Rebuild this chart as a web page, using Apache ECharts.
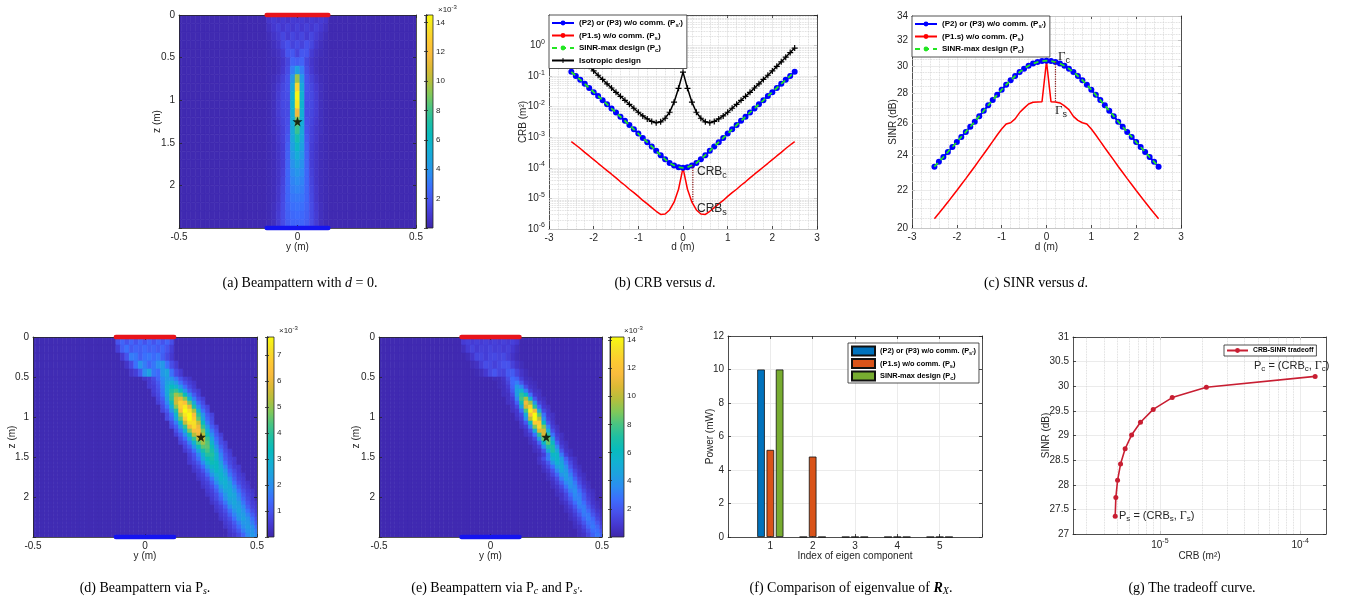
<!DOCTYPE html>
<html>
<head>
<meta charset="utf-8">
<script src="https://cdn.jsdelivr.net/npm/echarts@6.0.0/dist/echarts.min.js"></script>
<style>
html,body{margin:0;padding:0;background:#fff;}
#chart{width:1345px;height:606px;}
</style>
</head>
<body>
<div id="chart"></div>
<script>
// ================= DATA =================
const dVals = [-2.5,-2.4,-2.3,-2.2,-2.1,-2.0,-1.9,-1.8,-1.7,-1.6,-1.5,-1.4,-1.3,-1.2,-1.1,-1.0,-0.9,-0.8,-0.7,-0.6,-0.5,-0.4,-0.3,-0.2,-0.1,0,0.1,0.2,0.3,0.4,0.5,0.6,0.7,0.8,0.9,1.0,1.1,1.2,1.3,1.4,1.5,1.6,1.7,1.8,1.9,2.0,2.1,2.2,2.3,2.4,2.5];

// (b) CRB versus d
const crbPs2 = [0.138,0.102,0.076,0.056,0.041,0.030,0.0224,0.0162,0.0120,0.0087,0.0065,0.0047,0.00347,0.00250,0.00182,0.00132,0.00095,0.00069,0.00050,0.00036,0.00026,0.00019,0.000145,0.000120,0.000105,0.000100,0.000105,0.000120,0.000145,0.00019,0.00026,0.00036,0.00050,0.00069,0.00095,0.00132,0.00182,0.00250,0.00347,0.0047,0.0065,0.0087,0.0120,0.0162,0.0224,0.030,0.041,0.056,0.076,0.102,0.138];
const crbPs = [7.2e-4,5.6e-4,4.3e-4,3.2e-4,2.45e-4,1.86e-4,1.41e-4,1.07e-4,8.1e-5,6.2e-5,4.7e-5,3.5e-5,2.7e-5,2.0e-5,1.55e-5,1.17e-5,8.6e-6,6.6e-6,5.0e-6,3.8e-6,3.0e-6,3.1e-6,4.2e-6,7.5e-6,2.0e-5,1.0e-4,2.0e-5,7.5e-6,4.2e-6,3.1e-6,3.0e-6,3.8e-6,5.0e-6,6.6e-6,8.6e-6,1.17e-5,1.55e-5,2.0e-5,2.7e-5,3.5e-5,4.7e-5,6.2e-5,8.1e-5,1.07e-4,1.41e-4,1.86e-4,2.45e-4,3.2e-4,4.3e-4,5.6e-4,7.2e-4];
const crbPc = [0.138,0.102,0.076,0.056,0.041,0.030,0.0224,0.0162,0.0120,0.0087,0.0065,0.0047,0.00347,0.00250,0.00182,0.00132,0.00095,0.00069,0.00050,0.00036,0.00026,0.00019,0.000145,0.000120,0.000105,0.000100,0.000105,0.000120,0.000145,0.00019,0.00026,0.00036,0.00050,0.00069,0.00095,0.00132,0.00182,0.00250,0.00347,0.0047,0.0065,0.0087,0.0120,0.0162,0.0224,0.030,0.041,0.056,0.076,0.102,0.138];
const crbIso = [0.83,0.589,0.417,0.295,0.209,0.148,0.107,0.078,0.056,0.041,0.0295,0.0219,0.0162,0.0120,0.0089,0.0066,0.0050,0.0040,0.0033,0.0030,0.0032,0.0042,0.0066,0.0141,0.040,0.135,0.040,0.0141,0.0066,0.0042,0.0032,0.0030,0.0033,0.0040,0.0050,0.0066,0.0089,0.0120,0.0162,0.0219,0.0295,0.041,0.056,0.078,0.107,0.148,0.209,0.295,0.417,0.589,0.83];
const crbTicks = [1e-6,1e-5,1e-4,1e-3,1e-2,1e-1,1];
const crbGapD = [0.22,0.22];
const crbGapV = [1.25e-4,7.5e-6];

// (c) SINR versus d
const sinrPs2 = [23.32,23.60,23.89,24.19,24.49,24.80,25.12,25.44,25.77,26.10,26.46,26.82,27.19,27.55,27.91,28.27,28.62,28.95,29.26,29.55,29.80,30.02,30.18,30.30,30.37,30.40,30.37,30.30,30.18,30.02,29.80,29.55,29.26,28.95,28.62,28.27,27.91,27.55,27.19,26.82,26.46,26.10,25.77,25.44,25.12,24.80,24.49,24.19,23.89,23.60,23.32];
const sinrPs = [20.47,20.75,21.04,21.34,21.65,21.97,22.30,22.63,22.98,23.33,23.70,24.07,24.45,24.84,25.24,25.62,25.95,26.03,26.28,26.70,27.00,27.28,27.40,27.42,27.44,30.35,27.44,27.42,27.35,27.15,26.90,26.45,26.18,26.03,25.95,25.62,25.24,24.84,24.45,24.07,23.70,23.33,22.98,22.63,22.30,21.97,21.65,21.34,21.04,20.75,20.47];
const sinrPc = [23.32,23.60,23.89,24.19,24.49,24.80,25.12,25.44,25.77,26.10,26.46,26.82,27.19,27.55,27.91,28.27,28.62,28.95,29.26,29.55,29.80,30.02,30.18,30.30,30.37,30.40,30.37,30.30,30.18,30.02,29.80,29.55,29.26,28.95,28.62,28.27,27.91,27.55,27.19,26.82,26.46,26.10,25.77,25.44,25.12,24.80,24.49,24.19,23.89,23.60,23.32];
const sinrTicks = [20,22,24,26,28,30,32,34];
const sinrGapD = [0.2,0.2];
const sinrGapV = [30.32,27.42];

// (f) eigenvalues
const eigIndex = ['1','2','3','4','5'];
const eigPs2 = [10.0,0,0,0,0];
const eigPs = [5.2,4.8,0,0,0];
const eigPc = [10.0,0,0,0,0];

// (g) tradeoff curve
const tradeCrb = [4.80e-6,4.85e-6,4.99e-6,5.24e-6,5.65e-6,6.28e-6,7.27e-6,8.96e-6,1.224e-5,2.145e-5,1.28e-4];
const tradeSinr = [27.36,27.74,28.09,28.42,28.73,29.01,29.27,29.53,29.77,29.98,30.20];
const tradeTicks = [1e-5,1e-4];

// beampatterns (x1e-3): rows = [z centre, row height, first y, values every 0.02 m ...]; other cells = background
const bgA = 0.2, bgD = 0.15, bgE = 0.2;
const beamA = [
[0.05,0.1,-0.12,0.8,1.0,0.8,1.0,0.8,1.0,0.9,1.0,0.8,1.0,0.8,1.0,0.8],
[0.15,0.1,-0.12,0.6,0.9,1.2,0.9,1.2,0.9,1.2,0.9,1.2,0.9,1.2,0.9,0.6],
[0.25,0.1,-0.12,0.4,0.7,1.0,1.4,1.0,1.4,1.1,1.4,1.0,1.4,1.0,0.7,0.4],
[0.35,0.1,-0.12,0.3,0.5,0.8,1.4,1.8,1.3,1.6,1.3,1.8,1.4,0.8,0.5,0.3],
[0.45,0.1,-0.12,0.3,0.4,0.6,1.0,1.9,2.0,1.3,2.0,1.9,1.0,0.6,0.4,0.3],
[0.55,0.1,-0.12,0.3,0.3,0.5,0.8,1.4,2.4,2.2,2.4,1.4,0.8,0.5,0.3,0.3],
[0.65,0.1,-0.12,0.3,0.3,0.5,0.9,1.6,3.2,4.5,3.2,1.6,0.9,0.5,0.3,0.3],
[0.75,0.1,-0.12,0.3,0.4,0.7,1.2,1.8,4.2,9.5,4.2,1.8,1.2,0.7,0.4,0.3],
[0.85,0.1,-0.12,0.3,0.5,0.9,1.4,1.8,5.0,13.2,5.0,1.8,1.4,0.9,0.5,0.3],
[0.95,0.1,-0.12,0.3,0.5,1.0,1.5,1.7,5.5,14.3,5.5,1.7,1.5,1.0,0.5,0.3],
[1.05,0.1,-0.12,0.3,0.5,1.0,1.5,1.6,5.6,13.8,5.6,1.6,1.5,1.0,0.5,0.3],
[1.15,0.1,-0.12,0.3,0.5,1.0,1.4,1.6,5.4,11.5,5.4,1.6,1.4,1.0,0.5,0.3],
[1.25,0.1,-0.12,0.3,0.5,0.9,1.3,1.7,5.2,9.0,5.2,1.7,1.3,0.9,0.5,0.3],
[1.35,0.1,-0.12,0.3,0.5,0.8,1.2,1.8,5.0,7.8,5.0,1.8,1.2,0.8,0.5,0.3],
[1.45,0.1,-0.12,0.3,0.4,0.8,1.2,2.0,4.8,6.8,4.8,2.0,1.2,0.8,0.4,0.3],
[1.55,0.1,-0.12,0.3,0.4,0.7,1.1,2.2,4.5,6.0,4.5,2.2,1.1,0.7,0.4,0.3],
[1.65,0.1,-0.12,0.3,0.4,0.7,1.1,2.3,4.2,5.2,4.2,2.3,1.1,0.7,0.4,0.3],
[1.75,0.1,-0.12,0.3,0.4,0.7,1.1,2.4,3.9,4.6,3.9,2.4,1.1,0.7,0.4,0.3],
[1.85,0.1,-0.12,0.3,0.4,0.7,1.2,2.5,3.6,4.1,3.6,2.5,1.2,0.7,0.4,0.3],
[1.95,0.1,-0.12,0.3,0.4,0.7,1.3,2.5,3.4,3.7,3.4,2.5,1.3,0.7,0.4,0.3],
[2.05,0.1,-0.12,0.3,0.4,0.8,1.4,2.5,3.2,3.4,3.2,2.5,1.4,0.8,0.4,0.3],
[2.15,0.1,-0.12,0.3,0.4,0.8,1.5,2.5,3.0,3.1,3.0,2.5,1.5,0.8,0.4,0.3],
[2.25,0.1,-0.12,0.3,0.5,0.9,1.6,2.4,2.8,2.9,2.8,2.4,1.6,0.9,0.5,0.3],
[2.35,0.1,-0.12,0.3,0.5,1.0,1.6,2.3,2.6,2.7,2.6,2.3,1.6,1.0,0.5,0.3],
[2.45,0.1,-0.12,0.3,0.5,1.0,1.6,2.2,2.5,2.5,2.5,2.2,1.6,1.0,0.5,0.3]
];
const beamD = [
[0.05,0.1,-0.12,1.0,1.3,1.0,1.3,1.0,1.3,1.0,1.3,1.0,1.3,1.0,1.3,0.9],
[0.15,0.1,-0.12,0.6,1.2,1.5,1.1,1.3,1.2,1.4,1.2,1.3,1.1,1.3,1.0,0.6],
[0.25,0.1,-0.10,0.5,1.0,1.7,1.6,1.2,1.5,1.6,1.4,1.6,1.2,0.8,0.5],
[0.35,0.1,-0.08,0.4,0.8,1.5,2.1,1.7,1.3,1.6,2.0,2.2,1.5,0.9,0.5],
[0.45,0.1,-0.06,0.4,0.6,1.1,2.0,2.4,1.6,1.4,2.2,2.5,1.5,0.8,0.5],
[0.525,0.05,0.00,0.4,0.5,0.8,1.3,1.9,2.3,2.1,1.6,1.0,0.6,0.4],
[0.575,0.05,0.02,0.5,0.7,1.1,1.8,2.5,2.7,2.2,1.5,0.9,0.6,0.4],
[0.625,0.05,0.02,0.5,0.6,1.0,1.7,2.7,3.3,3.0,2.2,1.4,0.8,0.5],
[0.675,0.05,0.04,0.6,0.9,1.6,2.7,3.8,4.1,3.3,2.1,1.2,0.7,0.5],
[0.725,0.05,0.04,0.5,0.8,1.5,2.6,4.1,5.1,4.7,3.4,2.0,1.1,0.6],
[0.775,0.05,0.06,0.7,1.2,2.3,4.0,5.6,6.0,4.9,3.1,1.7,0.9,0.6],
[0.825,0.05,0.06,0.6,1.0,1.9,3.5,5.6,6.9,6.4,4.6,2.6,1.4,0.8],
[0.875,0.05,0.08,0.8,1.5,2.8,4.9,6.8,7.4,6.0,3.8,2.0,1.1,0.7],
[0.925,0.05,0.08,0.7,1.1,2.1,3.9,6.3,7.8,7.2,5.2,3.0,1.5,0.8],
[0.975,0.05,0.10,0.8,1.5,3.0,5.2,7.3,7.9,6.4,4.0,2.1,1.1,0.7],
[1.025,0.05,0.10,0.8,1.3,2.5,4.5,6.8,7.8,6.8,4.5,2.5,1.3,0.8],
[1.075,0.05,0.12,0.9,1.7,3.3,5.5,7.2,7.2,5.5,3.3,1.7,0.9],
[1.125,0.05,0.12,0.7,1.2,2.3,4.1,6.1,7.1,6.1,4.1,2.3,1.2,0.7],
[1.175,0.05,0.14,0.9,1.6,2.9,4.8,6.3,6.3,4.8,2.9,1.6,0.9],
[1.225,0.05,0.14,0.6,1.1,2.0,3.5,5.3,6.1,5.3,3.5,2.0,1.1,0.6],
[1.275,0.05,0.16,0.8,1.4,2.5,4.1,5.4,5.4,4.1,2.5,1.4,0.8],
[1.325,0.05,0.16,0.6,0.9,1.7,3.0,4.4,5.1,4.4,3.0,1.7,0.9,0.6],
[1.375,0.05,0.18,0.7,1.2,2.1,3.5,4.5,4.5,3.5,2.1,1.2,0.7],
[1.425,0.05,0.18,0.5,0.8,1.5,2.5,3.7,4.3,3.7,2.5,1.5,0.8,0.5],
[1.475,0.05,0.20,0.6,1.0,1.8,3.0,3.9,3.9,3.0,1.8,1.0,0.6],
[1.525,0.05,0.20,0.5,0.9,1.5,2.5,3.4,3.7,3.0,2.0,1.1,0.7,0.5],
[1.575,0.05,0.20,0.5,0.7,1.1,1.9,2.9,3.5,3.3,2.4,1.4,0.8,0.5],
[1.625,0.05,0.22,0.5,0.8,1.4,2.3,3.1,3.3,2.7,1.8,1.0,0.6,0.5],
[1.675,0.05,0.22,0.4,0.6,1.0,1.7,2.6,3.2,2.9,2.2,1.3,0.8,0.5],
[1.725,0.05,0.24,0.5,0.7,1.3,2.1,2.8,3.1,2.5,1.6,1.0,0.6,0.4],
[1.775,0.05,0.24,0.4,0.6,0.9,1.6,2.4,3.0,2.8,2.0,1.2,0.7,0.5],
[1.825,0.05,0.26,0.5,0.7,1.2,2.0,2.7,2.9,2.4,1.5,0.9,0.6,0.4],
[1.875,0.05,0.26,0.4,0.6,0.9,1.5,2.3,2.8,2.6,1.9,1.2,0.7,0.5],
[1.925,0.05,0.28,0.5,0.7,1.2,1.9,2.5,2.7,2.2,1.5,0.9,0.6,0.4],
[1.975,0.05,0.28,0.4,0.6,0.9,1.5,2.2,2.7,2.5,1.8,1.1,0.7,0.5],
[2.025,0.05,0.30,0.5,0.8,1.3,2.0,2.5,2.5,2.0,1.3,0.8,0.5],
[2.075,0.05,0.30,0.4,0.6,1.0,1.6,2.3,2.6,2.3,1.6,1.0,0.6,0.4],
[2.125,0.05,0.32,0.5,0.7,1.2,1.9,2.4,2.4,1.9,1.2,0.7,0.5],
[2.175,0.05,0.32,0.4,0.6,0.9,1.5,2.1,2.5,2.1,1.5,0.9,0.6,0.4],
[2.225,0.05,0.34,0.5,0.7,1.2,1.8,2.3,2.3,1.8,1.2,0.7,0.5],
[2.275,0.05,0.34,0.4,0.6,0.9,1.5,2.1,2.4,2.1,1.5,0.9,0.6,0.4],
[2.325,0.05,0.36,0.5,0.7,1.1,1.7,2.2,2.2,1.7,1.1,0.7,0.5],
[2.375,0.05,0.36,0.4,0.6,0.9,1.4,2.0,2.3,2.0,1.4,0.9,0.6,0.4],
[2.425,0.05,0.38,0.5,0.7,1.1,1.7,2.1,2.1,1.7,1.1,0.7,0.5],
[2.475,0.05,0.38,0.4,0.5,0.8,1.3,1.9,2.2,1.9,1.3,0.8,0.5,0.4]
];
const beamE = [
[0.05,0.1,-0.12,1.0,1.2,1.0,1.2,1.0,1.2,1.0,1.2,1.0,1.2,1.0,1.2,0.9],
[0.15,0.1,-0.12,0.5,1.0,1.3,1.0,1.2,1.1,1.3,1.1,1.2,1.0,1.2,0.9,0.5],
[0.25,0.1,-0.10,0.4,0.8,1.4,1.4,1.1,1.4,1.5,1.3,1.5,1.1,0.7,0.4],
[0.35,0.1,-0.08,0.4,0.6,1.1,1.6,1.5,1.2,1.5,1.8,1.8,1.2,0.7,0.4],
[0.45,0.1,-0.06,0.3,0.5,0.9,1.5,1.9,1.4,1.3,2.0,2.1,1.3,0.7,0.4],
[0.525,0.05,0.02,0.4,0.4,0.7,1.6,2.6,2.2,1.1,0.5,0.4],
[0.575,0.05,0.04,0.4,0.6,1.3,2.6,3.1,1.9,0.8,0.5,0.4],
[0.625,0.05,0.04,0.4,0.5,1.0,2.4,4.1,3.4,1.6,0.7,0.5],
[0.675,0.05,0.06,0.5,0.8,2.1,4.5,5.4,3.2,1.2,0.6,0.5],
[0.725,0.05,0.06,0.5,0.6,1.6,4.3,7.4,6.1,2.7,0.9,0.6],
[0.775,0.05,0.08,0.6,1.1,3.4,7.8,9.5,5.5,1.9,0.7,0.5],
[0.825,0.05,0.08,0.6,0.8,2.3,6.5,11.3,9.3,4.0,1.3,0.7],
[0.875,0.05,0.10,0.7,1.4,4.5,10.5,12.8,7.3,2.5,0.9,0.6],
[0.925,0.05,0.10,0.6,0.9,2.7,7.9,13.8,11.3,4.9,1.5,0.8],
[0.975,0.05,0.12,0.8,1.5,5.0,11.7,14.3,8.2,2.8,0.9,0.6],
[1.025,0.05,0.12,0.6,1.2,3.7,9.9,14.3,9.9,3.7,1.2,0.6],
[1.075,0.05,0.14,0.8,2.0,6.1,12.4,12.4,6.1,2.0,0.8],
[1.125,0.05,0.14,0.6,1.1,3.4,8.9,12.9,8.9,3.4,1.1,0.6],
[1.175,0.05,0.16,0.7,1.7,5.2,10.6,10.6,5.2,1.7,0.7],
[1.225,0.05,0.16,0.6,1.0,2.8,7.3,10.6,7.3,2.8,1.0,0.6],
[1.275,0.05,0.18,0.6,1.4,4.3,8.5,8.5,4.3,1.4,0.6],
[1.325,0.05,0.18,0.5,0.8,2.3,5.9,8.5,5.9,2.3,0.8,0.5],
[1.375,0.05,0.20,0.6,1.2,3.5,7.0,7.0,3.5,1.2,0.6],
[1.425,0.05,0.20,0.5,0.7,1.9,4.8,7.0,4.8,1.9,0.7,0.5],
[1.475,0.05,0.22,0.5,1.1,3.0,5.8,5.8,3.0,1.1,0.5],
[1.525,0.05,0.22,0.7,1.6,3.1,5.1,5.8,4.2,2.2,1.0,0.6],
[1.575,0.05,0.22,0.6,1.0,2.0,3.9,5.4,4.7,2.9,1.5,0.7],
[1.625,0.05,0.24,0.7,1.4,2.7,4.4,5.0,3.6,1.9,0.9,0.5],
[1.675,0.05,0.24,0.5,0.9,1.8,3.4,4.7,4.1,2.6,1.3,0.7],
[1.725,0.05,0.26,0.6,1.3,2.4,3.9,4.4,3.2,1.7,0.8,0.5],
[1.775,0.05,0.26,0.5,0.8,1.6,3.1,4.2,3.7,2.3,1.2,0.6],
[1.825,0.05,0.28,0.6,1.2,2.2,3.5,4.0,3.0,1.6,0.8,0.5],
[1.875,0.05,0.28,0.5,0.8,1.5,2.8,3.8,3.4,2.1,1.1,0.6],
[1.925,0.05,0.30,0.6,1.1,2.0,3.2,3.7,2.7,1.5,0.8,0.5],
[1.975,0.05,0.30,0.5,0.7,1.4,2.6,3.5,3.1,2.0,1.0,0.6],
[2.025,0.05,0.32,0.7,1.2,2.1,3.3,3.3,2.1,1.2,0.7],
[2.075,0.05,0.32,0.5,0.8,1.6,2.7,3.4,2.7,1.6,0.8,0.5],
[2.125,0.05,0.34,0.6,1.1,2.0,3.1,3.1,2.0,1.1,0.6],
[2.175,0.05,0.34,0.5,0.8,1.5,2.5,3.2,2.5,1.5,0.8,0.5],
[2.225,0.05,0.36,0.6,1.1,1.9,3.0,3.0,1.9,1.1,0.6],
[2.275,0.05,0.36,0.5,0.8,1.4,2.5,3.1,2.5,1.4,0.8,0.5],
[2.325,0.05,0.38,0.6,1.1,1.9,2.8,2.8,1.9,1.1,0.6],
[2.375,0.05,0.38,0.5,0.7,1.4,2.4,3.0,2.4,1.4,0.7,0.5],
[2.425,0.05,0.40,0.6,1.0,1.8,2.7,2.7,1.8,1.0,0.6],
[2.475,0.05,0.40,0.5,0.7,1.4,2.3,2.9,2.3,1.4,0.7,0.5]
];
const cbMaxA = 14.5, cbMaxD = 7.7, cbMaxE = 14.2;
const targetA = [[0,1.25]];
const targetD = [[0.25,1.25]];
const targetE = [[0.25,1.25]];
const txArray = [[-0.13,0],[0.13,0]];
const rxArray = [[-0.13,2.5],[0.13,2.5]];

// ================= STYLE / LAYOUT =================
const SANS = "'Liberation Sans', Arial, Helvetica, sans-serif";
const AXC = '#262626', TXC = '#262626';
const GRID_MAJ = '#e6e6e6', GRID_MIN = '#d2d2d2';
const PARULA = ['#3e26a8','#4538d0','#4751ec','#3d6cfd','#2c8cf2','#1ea1e0','#12b1d2','#08bbbd','#1fbfa3','#48c483','#80c85a','#b4bf3d','#dcb935','#f9bb3e','#fdc932','#f6e027','#f9fb0e'];
const CELL_DY = 0.02;
const STAR = 'path://M12,0L14.8,8.6L23.8,8.6L16.5,13.9L19.3,22.5L12,17.2L4.7,22.5L7.5,13.9L0.2,8.6L9.2,8.6Z';
const PLUS = 'path://M4,0H6V4H10V6H6V10H4V6H0V4H4Z';
const L = {
  a:{l:179,t:15,r:416,b:228}, aCb:{l:426,t:15,r:433,b:228},
  b:{l:549,t:15,r:817,b:229},
  c:{l:912,t:16,r:1181,b:228},
  d:{l:33,t:337,r:257,b:537}, dCb:{l:267,t:337,r:274,b:537},
  e:{l:379,t:337,r:602,b:537}, eCb:{l:610,t:337,r:624,b:537},
  f:{l:728,t:336,r:982,b:537},
  g:{l:1073,t:337,r:1326,b:534}
};
const N1 = "(P2) or (P3) w/o comm. (Ps')", N2 = "(P1.s) w/o comm. (Ps)", N3 = "SINR-max design (Pc)", N4 = "Isotropic design", NG = "CRB-SINR tradeoff";
const LEG_FMT = {};
LEG_FMT[N1] = "(P2) or (P3) w/o comm. (P{s|s'})";
LEG_FMT[N2] = "(P1.s) w/o comm. (P{s|s})";
LEG_FMT[N3] = "SINR-max design (P{s|c})";
LEG_FMT[N4] = "Isotropic design";
LEG_FMT[NG] = "CRB-SINR tradeoff";
const Z1 = '\u200b', Z2 = '\u200b\u200b';

const opt = {animation:false, backgroundColor:'#ffffff', textStyle:{fontFamily:SANS},
  grid:[], xAxis:[], yAxis:[], series:[], visualMap:[], legend:[], graphic:[]};

function zip(a,b){ return a.map((v,i)=>[v,b[i]]); }
function addGrid(r){ opt.grid.push({left:r.l, top:r.t, width:r.r-r.l, height:r.b-r.t, containLabel:false, outerBoundsMode:'none'}); return opt.grid.length-1; }
function axisObj(gi, pos, s, primary){
  const o = {
    gridIndex:gi, position:pos, type:s.type||'value', z:s.z||0, inverse:!!s.inverse, silent:true,
    axisLine:{show:true, onZero:false, lineStyle:{color:AXC, width:0.8}},
    axisTick:{show:true, inside:true, length:3, lineStyle:{color:AXC, width:0.8}},
    axisLabel:{show:primary, color:TXC, fontSize:10, fontFamily:SANS, margin:s.margin||4, showMinLabel:true, showMaxLabel:true, hideOverlap:false},
    splitLine:{show:primary && !!s.split, lineStyle:{color:GRID_MAJ, width:0.8}},
    name: primary ? (s.name||'') : '', nameLocation:'middle', nameGap:s.nameGap||15, nameMoveOverlap:false,
    nameTextStyle:{color:TXC, fontSize:10, fontFamily:SANS}
  };
  if (o.type === 'category') {
    o.data = s.data; o.boundaryGap = !!s.boundaryGap;
    o.axisLabel.interval = 0; o.axisTick.interval = 0; o.splitLine.interval = 0;
  } else {
    o.min = s.min; o.max = s.max;
    if (s.interval != null) o.interval = s.interval;
  }
  if (s.customValues) { o.axisTick.customValues = s.customValues; if (primary) o.axisLabel.customValues = s.labelValues || s.customValues; }
  if (s.fmt) o.axisLabel.formatter = s.fmt;
  if (s.rich) o.axisLabel.rich = s.rich;
  if (s.minor && primary) { o.minorTick = {show:false, splitNumber:s.minor}; o.minorSplitLine = {show:true, lineStyle:{color:GRID_MIN, type:'dotted', width:0.8}}; }
  return o;
}
function addBox(gi, xs, ys){
  const xi = opt.xAxis.length; opt.xAxis.push(axisObj(gi,'bottom',xs,true)); opt.xAxis.push(axisObj(gi,'top',xs,false));
  const yi = opt.yAxis.length; opt.yAxis.push(axisObj(gi,'left',ys,true)); opt.yAxis.push(axisObj(gi,'right',ys,false));
  return {xi, yi};
}
function powLabel(v){ const e = Math.round(Math.log10(v)); return '{b|10}{e|' + e + '}'; }
const POW_RICH = {b:{fontSize:10, fontFamily:SANS, color:TXC}, e:{fontSize:7, fontFamily:SANS, color:TXC, padding:[0,0,7,0]}};

function expandBeam(rows, bg){
  const out = [];
  const nCol = Math.round(1/CELL_DY);
  rows.forEach(row => {
    const z = row[0], dz = row[1], y0 = row[2], vals = row.slice(3);
    for (let k = 0; k <= nCol; k++) {
      const y = Math.round((-0.5 + k*CELL_DY)*100)/100;
      const j = Math.round((y - y0)/CELL_DY);
      out.push([y, z, (j >= 0 && j < vals.length) ? vals[j] : bg, dz]);
    }
  });
  return out;
}
function cellRender(params, api){
  const y = api.value(0), z = api.value(1), dz = api.value(3);
  const p0 = api.coord([y - CELL_DY/2, z - dz/2]);
  const p1 = api.coord([y + CELL_DY/2, z + dz/2]);
  const cs = params.coordSys;
  const x0 = Math.max(Math.min(p0[0],p1[0]), cs.x), x1 = Math.min(Math.max(p0[0],p1[0]), cs.x + cs.width);
  const y0 = Math.max(Math.min(p0[1],p1[1]), cs.y), y1 = Math.min(Math.max(p0[1],p1[1]), cs.y + cs.height);
  if (x1 <= x0 || y1 <= y0) return null;
  const c = api.visual('color');
  return {type:'rect', shape:{x:x0, y:y0, width:x1-x0, height:y1-y0}, style:{fill:c, stroke:c, lineWidth:0.6}};
}
function colorbar(r, vmax, interval){
  const gi = addGrid(r);
  const xi = opt.xAxis.length;
  opt.xAxis.push({gridIndex:gi, type:'value', min:0, max:1, show:false});
  const yi = opt.yAxis.length;
  const base = {gridIndex:gi, type:'value', min:0, max:vmax, interval:interval, z:10, silent:true, splitLine:{show:false},
    axisLine:{show:true, lineStyle:{color:AXC, width:0.8}}, axisTick:{show:true, inside:true, length:2, lineStyle:{color:AXC, width:0.8}}};
  opt.yAxis.push(Object.assign({}, base, {position:'right', axisLabel:{show:true, fontSize:8, color:TXC, fontFamily:SANS, margin:3,
    formatter:v => (v === 0 || Math.abs(v/interval - Math.round(v/interval)) > 1e-6) ? '' : String(v)}}));
  opt.yAxis.push(Object.assign({}, base, {position:'left', axisLabel:{show:false}}));
  const stops = PARULA.map((c,i) => ({offset:i/(PARULA.length-1), color:c}));
  opt.series.push({type:'custom', xAxisIndex:xi, yAxisIndex:yi, data:[[0,0,1,vmax]], silent:true, z:1, encode:{x:[0,2], y:[1,3]},
    renderItem:(p, api) => {
      const a = api.coord([api.value(0), api.value(1)]), b = api.coord([api.value(2), api.value(3)]);
      return {type:'rect', shape:{x:a[0], y:b[1], width:b[0]-a[0], height:a[1]-b[1]},
        style:{fill:new echarts.graphic.LinearGradient(0,1,0,0,stops), stroke:AXC, lineWidth:0.8}};
    }});
}
function heatPanel(r, rows, bg, vmax, target, cbr, cbInterval, yNameGap){
  const gi = addGrid(r);
  const ax = addBox(gi, {min:-0.5, max:0.5, interval:0.5, name:'y (m)', nameGap:14, z:10},
    {min:0, max:2.5, interval:0.5, inverse:true, name:'z (m)', nameGap:yNameGap, z:10, fmt:v => v === 2.5 ? '' : String(v)});
  const si = opt.series.length;
  opt.series.push({type:'custom', xAxisIndex:ax.xi, yAxisIndex:ax.yi, data:expandBeam(rows,bg), renderItem:cellRender, clip:true, silent:true, z:1, encode:{x:0, y:1}});
  opt.visualMap.push({type:'continuous', show:false, seriesIndex:si, dimension:2, min:0, max:vmax, inRange:{color:PARULA}});
  opt.series.push({type:'line', xAxisIndex:ax.xi, yAxisIndex:ax.yi, data:txArray, symbol:'none', clip:false, silent:true, z:12, lineStyle:{color:'#e8141b', width:4.5, cap:'round'}});
  opt.series.push({type:'line', xAxisIndex:ax.xi, yAxisIndex:ax.yi, data:rxArray, symbol:'none', clip:false, silent:true, z:12, lineStyle:{color:'#1414f0', width:4.5, cap:'round'}});
  opt.series.push({type:'scatter', xAxisIndex:ax.xi, yAxisIndex:ax.yi, data:target, symbol:STAR, symbolSize:10, itemStyle:{color:'#000'}, silent:true, z:13});
  colorbar(cbr, vmax, cbInterval);
}
function gridLines(ax, key, majors, minors, anchor){
  const data = majors.map(v => ({[key]:v, lineStyle:{color:GRID_MAJ, width:0.8, type:'solid'}}))
    .concat(minors.map(v => ({[key]:v, lineStyle:{color:GRID_MIN, width:0.8, type:'dotted'}})));
  opt.series.push({type:'line', xAxisIndex:ax.xi, yAxisIndex:ax.yi, data:[anchor], symbol:'none', lineStyle:{opacity:0}, silent:true, z:1,
    markLine:{silent:true, z:1, precision:20, symbol:['none','none'], label:{show:false}, animation:false, data:data}});
}
const LEG_RICH = {s:{fontFamily:SANS, fontSize:6, fontWeight:'bold', color:'#000', lineHeight:7, padding:[5,0,0,0]}};
function mkLegend(left, top, names, extra, fontSize){
  const fs = fontSize || 8;
  opt.legend.push(Object.assign({
    left:left, top:top, orient:'vertical', data:names, selectedMode:false, itemWidth:22, itemHeight:6, itemGap:0.5,
    padding:[2,4,2,2], borderColor:AXC, borderWidth:0.8, backgroundColor:'#fff', borderRadius:0, z:20,
    textStyle:{fontFamily:SANS, fontSize:fs, fontWeight:'bold', color:'#000', lineHeight:12,
      rich:{s:Object.assign({}, LEG_RICH.s, {fontSize:fs*0.75})}},
    formatter:name => LEG_FMT[name.replace(/\u200b/g,'')] || name
  }, extra||{}));
}
function decadeMinors(decades){ const out = []; decades.forEach(d => { for (let k = 2; k <= 9; k++) out.push(+(k*d).toPrecision(3)); }); return out; }

// ---------- (a), (d), (e) beampatterns ----------
heatPanel(L.a, beamA, bgA, cbMaxA, targetA, L.aCb, 2, 17);
heatPanel(L.d, beamD, bgD, cbMaxD, targetD, L.dCb, 1, 16);
heatPanel(L.e, beamE, bgE, cbMaxE, targetE, L.eCb, 2, 18);

// ---------- (b) CRB versus d ----------
const gB = addGrid(L.b);
const axB = addBox(gB, {min:-3, max:3, interval:1, name:'d (m)', nameGap:13, split:true, minor:5},
  {type:'log', min:1e-6, max:10, customValues:crbTicks.concat([10]), labelValues:crbTicks, fmt:powLabel, rich:POW_RICH, name:'CRB (m²)', nameGap:21});
gridLines(axB, 'yAxis', crbTicks, decadeMinors(crbTicks), [0, 1e-3]);
opt.series.push({name:N1, type:'line', xAxisIndex:axB.xi, yAxisIndex:axB.yi, data:zip(dVals, crbPs2), symbol:'circle', symbolSize:6, showAllSymbol:true, itemStyle:{color:'#0000ff'}, lineStyle:{color:'#0000ff', width:2}, z:3, silent:true});
opt.series.push({name:N2, type:'line', xAxisIndex:axB.xi, yAxisIndex:axB.yi, data:zip(dVals, crbPs), symbol:'none', itemStyle:{color:'#ff0000'}, lineStyle:{color:'#ff0000', width:1.5}, z:3, silent:true});
opt.series.push({name:N3, type:'line', xAxisIndex:axB.xi, yAxisIndex:axB.yi, data:zip(dVals, crbPc), symbol:'none', itemStyle:{color:'#22e622'}, lineStyle:{color:'#22e622', width:1.8, type:[5,4]}, z:4, silent:true});
opt.series.push({name:N4, type:'line', xAxisIndex:axB.xi, yAxisIndex:axB.yi, data:zip(dVals, crbIso), symbol:PLUS, symbolSize:6, showAllSymbol:true, itemStyle:{color:'#000'}, lineStyle:{color:'#000', width:1.5}, z:3, silent:true});
opt.series.push({type:'line', xAxisIndex:axB.xi, yAxisIndex:axB.yi, data:zip(crbGapD, crbGapV), symbol:'none', lineStyle:{color:'#8c1c1c', width:1.2, type:'dotted'}, z:5, silent:true});
mkLegend(549, 15, [N1, N2, N3, N4]);

// ---------- (c) SINR versus d ----------
const gC = addGrid(L.c);
const axC = addBox(gC, {min:-3, max:3, interval:1, name:'d (m)', nameGap:14, split:true, minor:5},
  {type:'log', min:20, max:34, customValues:sinrTicks, name:'SINR (dB)', nameGap:14});
const sinrMinor = []; for (let v = 20.5; v < 34; v += 0.5) { if (sinrTicks.indexOf(v) < 0) sinrMinor.push(v); }
gridLines(axC, 'yAxis', sinrTicks, sinrMinor, [0, 25]);
opt.series.push({name:N1+Z1, type:'line', xAxisIndex:axC.xi, yAxisIndex:axC.yi, data:zip(dVals, sinrPs2), symbol:'circle', symbolSize:6, showAllSymbol:true, itemStyle:{color:'#0000ff'}, lineStyle:{color:'#0000ff', width:2}, z:3, silent:true});
opt.series.push({name:N2+Z1, type:'line', xAxisIndex:axC.xi, yAxisIndex:axC.yi, data:zip(dVals, sinrPs), symbol:'none', itemStyle:{color:'#ff0000'}, lineStyle:{color:'#ff0000', width:1.5}, z:3, silent:true});
opt.series.push({name:N3+Z1, type:'line', xAxisIndex:axC.xi, yAxisIndex:axC.yi, data:zip(dVals, sinrPc), symbol:'none', itemStyle:{color:'#22e622'}, lineStyle:{color:'#22e622', width:1.8, type:[5,4]}, z:4, silent:true});
opt.series.push({type:'line', xAxisIndex:axC.xi, yAxisIndex:axC.yi, data:zip(sinrGapD, sinrGapV), symbol:'none', lineStyle:{color:'#8c1c1c', width:1.2, type:'dotted'}, z:5, silent:true});
mkLegend(912, 16, [N1+Z1, N2+Z1, N3+Z1]);

// ---------- (f) eigenvalue comparison ----------
const gF = addGrid(L.f);
const fCats = ['0'].concat(eigIndex, ['6']);
const axF = addBox(gF, {type:'category', data:fCats, boundaryGap:false, name:'Index of eigen component', nameGap:14, split:true, fmt:v => (v === '0' || v === '6') ? '' : v},
  {min:0, max:12, interval:2, name:'Power (mW)', nameGap:13, split:true});
[[N1+Z2, eigPs2, '#0072bd'], [N2+Z2, eigPs, '#d95319'], [N3+Z2, eigPc, '#77ac30']].forEach(([n, vals, c]) => {
  opt.series.push({name:n, type:'bar', xAxisIndex:axF.xi, yAxisIndex:axF.yi, data:[null].concat(vals, [null]), barWidth:'18%', barGap:'22%',
    itemStyle:{color:c, borderColor:'#111', borderWidth:0.8}, z:3, silent:true});
});
mkLegend(848, 343, [N1+Z2, N2+Z2, N3+Z2], {icon:'rect', itemWidth:23, itemHeight:9, padding:[2,3,1,3]}, 7.4);

// ---------- (g) tradeoff curve ----------
const gG = addGrid(L.g);
const axG = addBox(gG, {type:'log', min:2.4e-6, max:1.53e-4, customValues:tradeTicks, fmt:powLabel, rich:POW_RICH, name:'CRB (m²)', nameGap:17},
  {min:27, max:31, interval:0.5, name:'SINR (dB)', nameGap:22, split:true});
gridLines(axG, 'xAxis', tradeTicks, decadeMinors([1e-6, 1e-5]).filter(v => v > 2.4e-6 && v < 1.53e-4), [1e-5, 29]);
opt.series.push({name:NG, type:'line', xAxisIndex:axG.xi, yAxisIndex:axG.yi, data:zip(tradeCrb, tradeSinr), symbol:'circle', symbolSize:5, showAllSymbol:true,
  itemStyle:{color:'#c81e32'}, lineStyle:{color:'#c81e32', width:1.6}, z:3, silent:true});
mkLegend(1224, 345, [NG], {itemWidth:21, padding:[0,3,0,2]}, 6.8);
opt.legend[opt.legend.length-1].textStyle.lineHeight = 11;

// ---------- texts ----------
function txt(x, y, text, rich, font, align){
  opt.graphic.push({type:'text', x:x, y:y, silent:true, z:100,
    style:{text:text, fill:'#000', font:font, align:align||'left', verticalAlign:'middle', textAlign:align||'left', textVerticalAlign:'middle', rich:rich}});
}
const F = (sz, extra) => (extra ? extra + ' ' : '') + sz + "px 'Liberation Sans', Arial, sans-serif";
const FS = (sz, extra) => (extra ? extra + ' ' : '') + sz + "px 'Liberation Serif', 'Times New Roman', serif";
const CAP_RICH = {
  i:{font:FS(14,'italic'), fill:'#000'},
  s:{font:FS(10,'italic'), fill:'#000', padding:[6,0,0,0]},
  bi:{font:FS(14,'italic bold'), fill:'#000'},
  x:{font:FS(10,'italic'), fill:'#000', padding:[6,0,0,0]}
};
txt(300, 283, '(a) Beampattern with {i|d} = 0.', CAP_RICH, FS(14), 'center');
txt(665, 283, '(b) CRB versus {i|d}.', CAP_RICH, FS(14), 'center');
txt(1036, 283, '(c) SINR versus {i|d}.', CAP_RICH, FS(14), 'center');
txt(145, 588, '(d) Beampattern via P{s|s}.', CAP_RICH, FS(14), 'center');
txt(497, 588, '(e) Beampattern via P{s|c} and P{s|s′}.', CAP_RICH, FS(14), 'center');
txt(851, 588, '(f) Comparison of eigenvalue of {bi|R}{x|X}.', CAP_RICH, FS(14), 'center');
txt(1192, 588, '(g) The tradeoff curve.', CAP_RICH, FS(14), 'center');

const EXP_RICH = {m:{font:F(8), fill:TXC}, e:{font:F(6), fill:TXC, padding:[0,0,5,0]}};
txt(438, 10, '{m|×10}{e|-3}', EXP_RICH, F(8));
txt(279, 331, '{m|×10}{e|-3}', EXP_RICH, F(8));
txt(624, 331, '{m|×10}{e|-3}', EXP_RICH, F(8));

const ANN_RICH = {m:{font:F(12), fill:TXC}, s:{font:F(9), fill:TXC, padding:[7,0,0,0]}, g:{font:FS(13), fill:TXC}};
txt(697, 172, '{m|CRB}{s|c}', ANN_RICH, F(12));
txt(697, 209, '{m|CRB}{s|s}', ANN_RICH, F(12));
txt(1058, 57, '{g|Γ}{s|c}', ANN_RICH, FS(13));
txt(1055, 111, '{g|Γ}{s|s}', ANN_RICH, FS(13));
const ANN_G = {m:{font:F(11), fill:TXC}, s:{font:F(8), fill:TXC, padding:[6,0,0,0]}, g:{font:FS(12), fill:TXC}};
txt(1254, 366, '{m|P}{s|c}{m| = (CRB}{s|c}{m|, }{g|Γ}{s|c}{m|)}', ANN_G, F(11));
txt(1119, 516, '{m|P}{s|s}{m| = (CRB}{s|s}{m|, }{g|Γ}{s|s}{m|)}', ANN_G, F(11));

const chart = echarts.init(document.getElementById('chart'), null, {renderer:'canvas'});
chart.setOption(opt);
</script>
</body>
</html>
